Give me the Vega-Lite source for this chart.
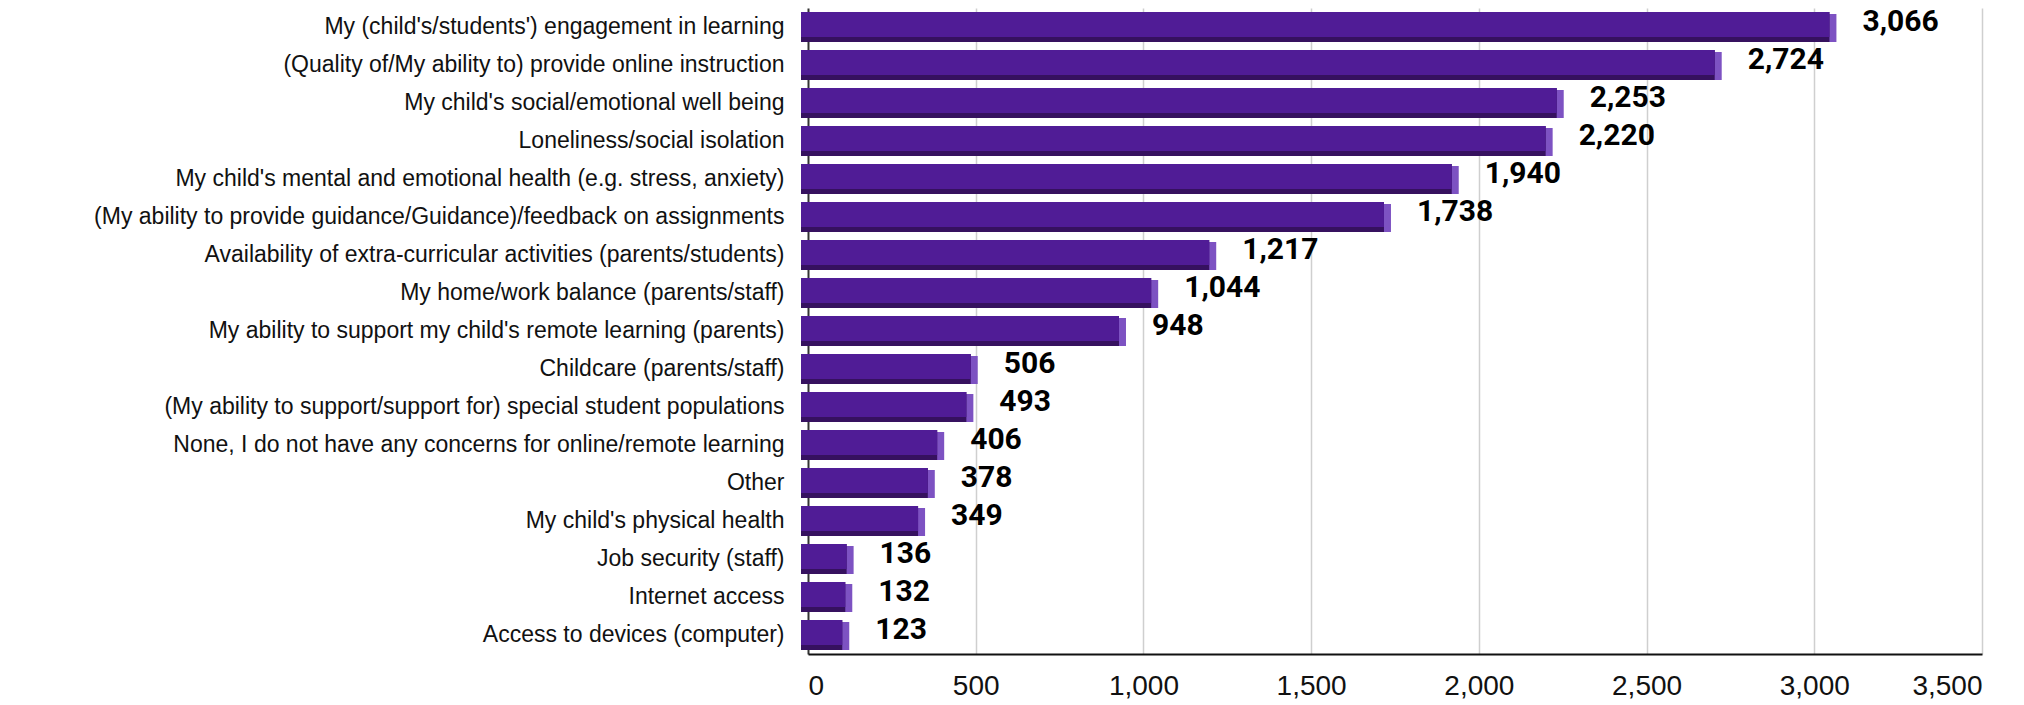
{
  "$schema": "https://vega.github.io/schema/vega-lite/v6.json",
  "width": 1174,
  "height": 646,
  "autosize": {"type": "none"},
  "padding": {"left": 808, "top": 8, "right": 42, "bottom": 51},
  "background": "white",
  "config": {"view": {"stroke": null}},
  "data": {
    "values": [
      {"concern": "My (child's/students') engagement in learning", "count": 3066},
      {"concern": "(Quality of/My ability to) provide online instruction", "count": 2724},
      {"concern": "My child's social/emotional well being", "count": 2253},
      {"concern": "Loneliness/social isolation", "count": 2220},
      {"concern": "My child's mental and emotional health (e.g. stress, anxiety)", "count": 1940},
      {"concern": "(My ability to provide guidance/Guidance)/feedback on assignments", "count": 1738},
      {"concern": "Availability of extra-curricular activities (parents/students)", "count": 1217},
      {"concern": "My home/work balance (parents/staff)", "count": 1044},
      {"concern": "My ability to support my child's remote learning (parents)", "count": 948},
      {"concern": "Childcare (parents/staff)", "count": 506},
      {"concern": "(My ability to support/support for) special student populations", "count": 493},
      {"concern": "None, I do not have any concerns for online/remote learning", "count": 406},
      {"concern": "Other", "count": 378},
      {"concern": "My child's physical health", "count": 349},
      {"concern": "Job security (staff)", "count": 136},
      {"concern": "Internet access", "count": 132},
      {"concern": "Access to devices (computer)", "count": 123}
    ]
  },
  "encoding": {
    "y": {
      "field": "concern",
      "type": "nominal",
      "sort": null,
      "title": null,
      "axis": {
        "domain": false,
        "ticks": false,
        "labelPadding": 24,
        "labelFont": "Liberation Sans",
        "labelFontSize": 23,
        "labelColor": "#111",
        "labelLimit": 900
      }
    },
    "x": {
      "field": "count",
      "type": "quantitative",
      "title": null,
      "scale": {"domain": [0, 3500], "nice": false},
      "axis": {
        "values": [0, 500, 1000, 1500, 2000, 2500, 3000, 3500],
        "labelExpr": "format(datum.value, ',')",
        "ticks": false,
        "labelPadding": 18,
        "labelFont": "Liberation Sans",
        "labelFontSize": 28,
        "labelColor": "#111",
        "domainColor": "#111",
        "domainWidth": 2,
        "gridColor": {"condition": {"test": "datum.value === 0", "value": "#333"}, "value": "#cfcfcf"},
        "gridWidth": {"condition": {"test": "datum.value === 0", "value": 2}, "value": 1.5}
      }
    }
  },
  "layer": [
    {
      "mark": {"type": "bar", "color": "#7D52C2", "height": 28, "yOffset": 1, "x2Offset": -8}
    },
    {
      "mark": {"type": "bar", "color": "#36115F", "height": 30, "xOffset": -7, "x2Offset": -8}
    },
    {
      "mark": {"type": "bar", "color": "#501C96", "height": 25, "yOffset": -2.5, "xOffset": -7, "x2Offset": -8}
    },
    {
      "mark": {"type": "text", "align": "left", "baseline": "middle", "dx": 26, "dy": -5, "font": "Roboto", "fontWeight": "bold", "fontSize": 30, "color": "#000"},
      "encoding": {"text": {"field": "count", "type": "quantitative", "format": ","}}
    }
  ]
}
